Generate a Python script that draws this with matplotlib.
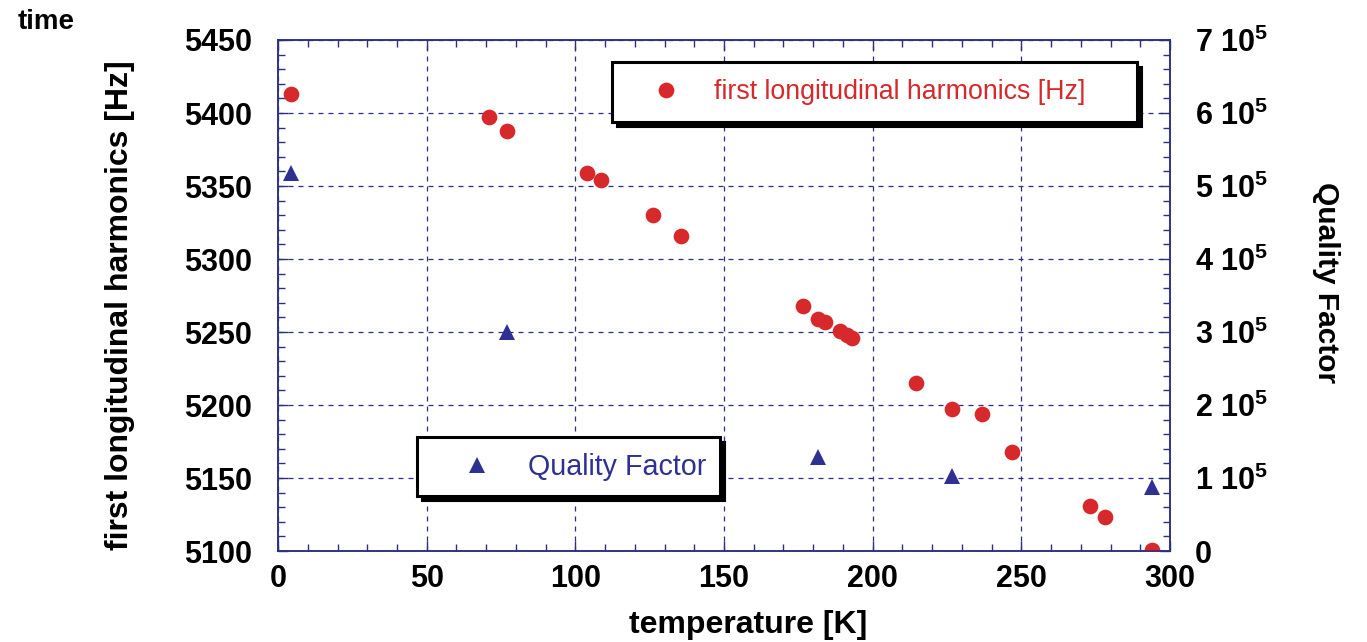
import matplotlib
matplotlib.use("Agg")
import matplotlib.pyplot as plt
from matplotlib.patches import Rectangle
from matplotlib.lines import Line2D
from matplotlib.ticker import MultipleLocator, FuncFormatter
from matplotlib.transforms import ScaledTranslation

plt.rcParams['font.family'] = ['Liberation Sans', 'DejaVu Sans']
plt.rcParams['mathtext.fontset'] = 'custom'
plt.rcParams['mathtext.rm'] = 'Liberation Sans'
plt.rcParams['mathtext.bf'] = 'Liberation Sans:bold'

# first longitudinal harmonic vs temperature
temp_freq = [4.4, 71, 77, 104, 108.6, 126, 135.5, 176.6, 181.6, 184, 189, 191.4,
             193, 214.6, 226.7, 236.8, 246.9, 273, 278, 294]
freq = [5413, 5397, 5388, 5359, 5354, 5330, 5316, 5268, 5259, 5257, 5251, 5248,
        5246, 5215, 5197, 5194, 5168, 5131, 5123, 5101]

# quality factor vs temperature
temp_q = [4.4, 77, 181.6, 226.7, 294]
qfactor = [5.18e5, 3.0e5, 1.29e5, 1.03e5, 0.88e5]

red = '#d7282b'
navy = '#2e3191'
axcol = '#2b2e83'

fig = plt.figure(figsize=(13.67, 6.42), dpi=100)
ax = fig.add_axes([0.2034, 0.1417, 0.6525, 0.796])
ax2 = ax.twinx()

ax.plot(temp_freq, freq, 'o', color=red, markersize=11.3, markeredgewidth=0, zorder=3)
ax2.plot(temp_q, qfactor, '^', color=navy, markersize=11, markeredgewidth=0, zorder=3)

ax.set_xlim(0, 300)
ax.set_ylim(5100, 5450)
ax2.set_ylim(0, 7e5)

ax.xaxis.set_major_locator(MultipleLocator(50))
ax.xaxis.set_minor_locator(MultipleLocator(10))
ax.yaxis.set_major_locator(MultipleLocator(50))
ax.yaxis.set_minor_locator(MultipleLocator(10))
ax2.yaxis.set_major_locator(MultipleLocator(1e5))
ax2.yaxis.set_minor_locator(MultipleLocator(2e4))


def qfmt(v, pos):
    n = int(round(v / 1e5))
    if n == 0:
        return '0'
    return f'{n} 10$^{{\\mathbf{{5}}}}$'


ax2.yaxis.set_major_formatter(FuncFormatter(qfmt))

ax.tick_params(axis='both', which='both', direction='in', color=axcol, width=1,
               labelsize=22)
ax.tick_params(axis='x', which='both', top=True, pad=9)
ax.tick_params(axis='y', which='both', right=False, pad=19)
ax.tick_params(which='major', length=7)
ax.tick_params(which='minor', length=5)
ax2.tick_params(axis='y', which='both', direction='in', color=axcol, width=1,
                labelsize=22, pad=18)
ax2.tick_params(which='major', length=7)
ax2.tick_params(which='minor', length=5)
for a in (ax, ax2):
    for lab in a.get_xticklabels() + a.get_yticklabels():
        lab.set_fontweight('bold')
    for sp in a.spines.values():
        sp.set_color(axcol)
        sp.set_linewidth(1.1)

ax.grid(True, which='major', color=axcol, linestyle=(0, (4, 4)), linewidth=0.9)
ax.set_axisbelow(True)

ax.set_xlabel('temperature [K]', fontsize=23, fontweight='bold', va='center')
ax.xaxis.set_label_coords(0.527, -0.145)
ax.set_ylabel('first longitudinal harmonics [Hz]', fontsize=23, fontweight='bold',
              va='center')
ax.yaxis.set_label_coords(-0.177, 0.481)
ax2.set_ylabel('Quality Factor', fontsize=21.5, fontweight='bold', rotation=-90,
               va='center')
ax2.yaxis.set_label_coords(1.175, 0.525)

fig.text(0.013, 0.966, 'time', fontsize=20, fontweight='bold', va='center', ha='left')

# legend boxes with offset black shadow
shadow_tr = ax2.transAxes + ScaledTranslation(5 / 100, -5 / 100, fig.dpi_scale_trans)
boxes = [(0.3744, 0.8395, 0.589, 0.1174), (0.1558, 0.1076, 0.3397, 0.1155)]
for (x0, y0, w, h) in boxes:
    ax2.add_patch(Rectangle((x0, y0), w, h, transform=shadow_tr, facecolor='black',
                            edgecolor='black', linewidth=1.5, zorder=8, clip_on=False))
    ax2.add_patch(Rectangle((x0, y0), w, h, transform=ax2.transAxes, facecolor='white',
                            edgecolor='black', linewidth=2.2, zorder=9, clip_on=False))

h_freq = Line2D([], [], marker='o', linestyle='none', color=red, markersize=11.3,
                markeredgewidth=0)
h_q = Line2D([], [], marker='^', linestyle='none', color=navy, markersize=11,
             markeredgewidth=0)

x0, y0, w, h = boxes[0]
leg1 = ax2.legend([h_freq], ['first longitudinal harmonics [Hz]'], loc='center left',
                  bbox_to_anchor=(x0, y0, w, h), borderaxespad=0, frameon=False,
                  fontsize=19.3, borderpad=0.47, handlelength=3.12, handletextpad=0.2,
                  numpoints=1, labelcolor=red)
leg1.set_zorder(10)
ax2.add_artist(leg1)

x0, y0, w, h = boxes[1]
leg2 = ax2.legend([h_q], ['Quality Factor'], loc='center left',
                  bbox_to_anchor=(x0, y0, w, h), borderaxespad=0, frameon=False,
                  fontsize=20.6, borderpad=0.48, handlelength=3.2, handletextpad=0.2,
                  numpoints=1, labelcolor=navy)
leg2.set_zorder(10)

fig.savefig('out.png', dpi=100, facecolor='white')
